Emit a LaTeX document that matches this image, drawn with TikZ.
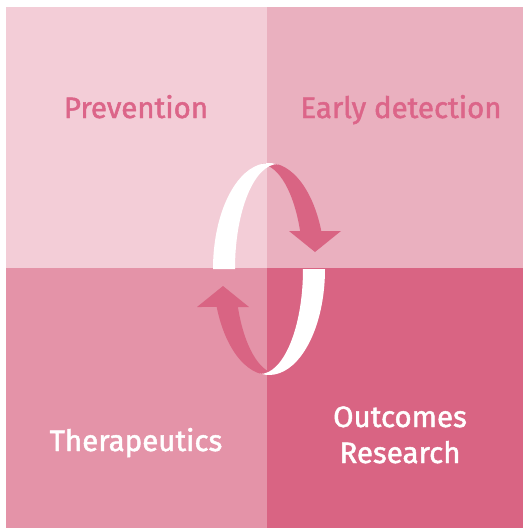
\documentclass[tikz,border=0pt]{standalone}
\usepackage{fontspec}
\setmainfont{Fira Sans}
\newfontfamily\labelfont{Fira Sans}[FakeBold=1.6]
\usepackage{xcolor}
\definecolor{quadA}{HTML}{F3CDD7}
\definecolor{quadB}{HTML}{EAB0BF}
\definecolor{quadC}{HTML}{E493A8}
\definecolor{quadD}{HTML}{D96483}
\definecolor{labelpink}{HTML}{DC6589}
\tikzset{
  label/.style={anchor=base,font=\labelfont\fontsize{29.5}{36}\selectfont},
  ribbon/.style={white}
}
\begin{document}
\begin{tikzpicture}[x=1pt,y=1pt]
\useasboundingbox (0,0) rectangle (526,-528);
\fill[quadA] (6,-7) rectangle (267,-268); \fill[quadB] (267,-7) rectangle (523,-268);
\fill[quadC] (6,-268) rectangle (267,-528); \fill[quadD] (267,-268) rectangle (523,-528);
\foreach \r in {0,180}{
  \begin{scope}[rotate around={\r:(269,-269)}]
  \fill[quadD] (262.2,-163.8) arc[start angle=97,end angle=21,x radius=56pt,y radius=106pt]
    -- (341,-231) -- (315,-252) -- (289,-231) -- (300.1,-231)
    arc[start angle=21.2,end angle=87.3,x radius=43pt,y radius=105pt] -- cycle;
  \fill[ribbon] (213,-269) arc[start angle=180,end angle=81,x radius=56pt,y radius=106pt]
    -- (278,-164) arc[start angle=90,end angle=180,x radius=43pt,y radius=105pt] -- cycle;
  \end{scope}
}
\node[label,text=labelpink] (prev) at (136,-118) {Prevention};
\node[label,text=labelpink] (early) at (401,-118) {Early detection};
\node[label,text=white] (thera) at (136,-451) {Therapeutics};
\node[label,text=white,align=center] (outc) at (400,-463) {Outcomes\\Research};
\end{tikzpicture}
\end{document}
